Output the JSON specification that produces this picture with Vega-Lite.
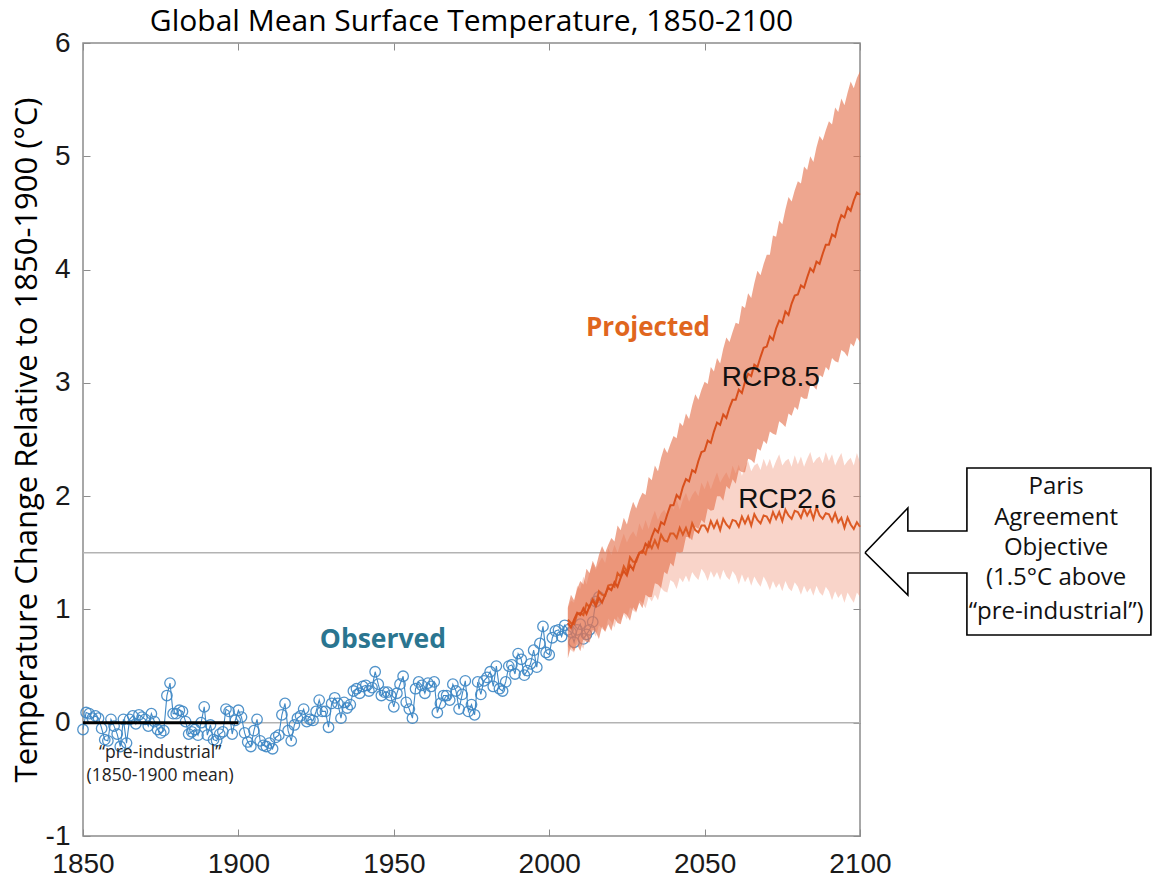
{
"$schema": "https://vega.github.io/schema/vega-lite/v6.json",
"width": 777, "height": 793,
"autosize": {"type": "none"},
"padding": {"left": 83, "top": 43, "right": 294, "bottom": 45},
"background": "white",
"title": {"text": "Global Mean Surface Temperature, 1850-2100", "font": "Open Sans", "fontSize": 30, "fontWeight": "normal", "color": "black", "offset": -8},
"config": {"view": {"stroke": "#8c8c8c", "strokeWidth": 1.5}},
"datasets": {
"obs": [
{"year":1850,"v":-0.06},{"year":1851,"v":0.09},{"year":1852,"v":0.08},{"year":1853,"v":0.04},{"year":1854,"v":0.06},{"year":1855,"v":0.04},{"year":1856,"v":-0.05},{"year":1857,"v":-0.15},{"year":1858,"v":-0.16},{"year":1859,"v":0.03},
{"year":1860,"v":-0.03},{"year":1861,"v":-0.10},{"year":1862,"v":-0.21},{"year":1863,"v":0.03},{"year":1864,"v":-0.18},{"year":1865,"v":0.03},{"year":1866,"v":0.06},{"year":1867,"v":-0.01},{"year":1868,"v":0.07},{"year":1869,"v":0.05},
{"year":1870,"v":0.03},{"year":1871,"v":-0.03},{"year":1872,"v":0.08},{"year":1873,"v":0.01},{"year":1874,"v":-0.06},{"year":1875,"v":-0.09},{"year":1876,"v":-0.07},{"year":1877,"v":0.24},{"year":1878,"v":0.35},{"year":1879,"v":0.08},
{"year":1880,"v":0.08},{"year":1881,"v":0.11},{"year":1882,"v":0.10},{"year":1883,"v":0.01},{"year":1884,"v":-0.10},{"year":1885,"v":-0.08},{"year":1886,"v":-0.06},{"year":1887,"v":-0.11},{"year":1888,"v":0.00},{"year":1889,"v":0.14},
{"year":1890,"v":-0.11},{"year":1891,"v":-0.02},{"year":1892,"v":-0.15},{"year":1893,"v":-0.16},{"year":1894,"v":-0.10},{"year":1895,"v":-0.08},{"year":1896,"v":0.12},{"year":1897,"v":0.10},{"year":1898,"v":-0.10},{"year":1899,"v":0.02},
{"year":1900,"v":0.11},{"year":1901,"v":0.05},{"year":1902,"v":-0.09},{"year":1903,"v":-0.17},{"year":1904,"v":-0.21},{"year":1905,"v":-0.07},{"year":1906,"v":0.03},{"year":1907,"v":-0.16},{"year":1908,"v":-0.20},{"year":1909,"v":-0.21},
{"year":1910,"v":-0.18},{"year":1911,"v":-0.23},{"year":1912,"v":-0.13},{"year":1913,"v":-0.11},{"year":1914,"v":0.07},{"year":1915,"v":0.17},{"year":1916,"v":-0.07},{"year":1917,"v":-0.16},{"year":1918,"v":-0.02},{"year":1919,"v":0.04},
{"year":1920,"v":0.06},{"year":1921,"v":0.12},{"year":1922,"v":0.01},{"year":1923,"v":0.03},{"year":1924,"v":0.02},{"year":1925,"v":0.10},{"year":1926,"v":0.20},{"year":1927,"v":0.10},{"year":1928,"v":0.10},{"year":1929,"v":-0.04},
{"year":1930,"v":0.17},{"year":1931,"v":0.22},{"year":1932,"v":0.17},{"year":1933,"v":0.04},{"year":1934,"v":0.18},{"year":1935,"v":0.13},{"year":1936,"v":0.16},{"year":1937,"v":0.28},{"year":1938,"v":0.30},{"year":1939,"v":0.26},
{"year":1940,"v":0.32},{"year":1941,"v":0.33},{"year":1942,"v":0.28},{"year":1943,"v":0.31},{"year":1944,"v":0.45},{"year":1945,"v":0.34},{"year":1946,"v":0.24},{"year":1947,"v":0.27},{"year":1948,"v":0.27},{"year":1949,"v":0.24},
{"year":1950,"v":0.14},{"year":1951,"v":0.26},{"year":1952,"v":0.34},{"year":1953,"v":0.41},{"year":1954,"v":0.18},{"year":1955,"v":0.12},{"year":1956,"v":0.04},{"year":1957,"v":0.30},{"year":1958,"v":0.36},{"year":1959,"v":0.33},
{"year":1960,"v":0.26},{"year":1961,"v":0.35},{"year":1962,"v":0.32},{"year":1963,"v":0.36},{"year":1964,"v":0.09},{"year":1965,"v":0.17},{"year":1966,"v":0.24},{"year":1967,"v":0.24},{"year":1968,"v":0.20},{"year":1969,"v":0.34},
{"year":1970,"v":0.28},{"year":1971,"v":0.12},{"year":1972,"v":0.25},{"year":1973,"v":0.37},{"year":1974,"v":0.10},{"year":1975,"v":0.16},{"year":1976,"v":0.07},{"year":1977,"v":0.36},{"year":1978,"v":0.25},{"year":1979,"v":0.37},
{"year":1980,"v":0.40},{"year":1981,"v":0.45},{"year":1982,"v":0.32},{"year":1983,"v":0.50},{"year":1984,"v":0.30},{"year":1985,"v":0.28},{"year":1986,"v":0.36},{"year":1987,"v":0.50},{"year":1988,"v":0.51},{"year":1989,"v":0.43},
{"year":1990,"v":0.61},{"year":1991,"v":0.56},{"year":1992,"v":0.42},{"year":1993,"v":0.46},{"year":1994,"v":0.52},{"year":1995,"v":0.64},{"year":1996,"v":0.49},{"year":1997,"v":0.70},{"year":1998,"v":0.85},{"year":1999,"v":0.62},
{"year":2000,"v":0.60},{"year":2001,"v":0.75},{"year":2002,"v":0.81},{"year":2003,"v":0.82},{"year":2004,"v":0.76},{"year":2005,"v":0.86},{"year":2006,"v":0.82},{"year":2007,"v":0.80},{"year":2008,"v":0.71},{"year":2009,"v":0.82},
{"year":2010,"v":0.87},{"year":2011,"v":0.74},{"year":2012,"v":0.78},{"year":2013,"v":0.82},{"year":2014,"v":0.89},{"year":2015,"v":1.07},{"year":2016,"v":1.11}
],
"proj": [
{"year":2006,"m85":0.88,"lo85":0.57,"hi85":1.02,"m26":0.91,"lo26":0.67,"hi26":1.01},
{"year":2007,"m85":0.84,"lo85":0.67,"hi85":1.13,"m26":0.88,"lo26":0.64,"hi26":1.08},
{"year":2008,"m85":0.91,"lo85":0.63,"hi85":1.08,"m26":0.87,"lo26":0.62,"hi26":1.06},
{"year":2009,"m85":0.97,"lo85":0.69,"hi85":1.18,"m26":0.96,"lo26":0.73,"hi26":1.21},
{"year":2010,"m85":0.95,"lo85":0.63,"hi85":1.25,"m26":0.97,"lo26":0.70,"hi26":1.18},
{"year":2011,"m85":1.01,"lo85":0.74,"hi85":1.22,"m26":0.95,"lo26":0.65,"hi26":1.29},
{"year":2012,"m85":0.96,"lo85":0.71,"hi85":1.36,"m26":1.05,"lo26":0.77,"hi26":1.22},
{"year":2013,"m85":1.03,"lo85":0.71,"hi85":1.32,"m26":1.02,"lo26":0.73,"hi26":1.33},
{"year":2014,"m85":1.08,"lo85":0.82,"hi85":1.43,"m26":1.09,"lo26":0.81,"hi26":1.41},
{"year":2015,"m85":1.03,"lo85":0.80,"hi85":1.37,"m26":1.04,"lo26":0.76,"hi26":1.35},
{"year":2016,"m85":1.10,"lo85":0.74,"hi85":1.48,"m26":1.16,"lo26":0.86,"hi26":1.41},
{"year":2017,"m85":1.06,"lo85":0.85,"hi85":1.56,"m26":1.13,"lo26":0.83,"hi26":1.46},
{"year":2018,"m85":1.13,"lo85":0.80,"hi85":1.50,"m26":1.12,"lo26":0.81,"hi26":1.41},
{"year":2019,"m85":1.19,"lo85":0.87,"hi85":1.57,"m26":1.21,"lo26":0.92,"hi26":1.54},
{"year":2020,"m85":1.17,"lo85":0.81,"hi85":1.63,"m26":1.22,"lo26":0.89,"hi26":1.48},
{"year":2021,"m85":1.24,"lo85":0.92,"hi85":1.60,"m26":1.20,"lo26":0.84,"hi26":1.57},
{"year":2022,"m85":1.20,"lo85":0.88,"hi85":1.74,"m26":1.32,"lo26":0.94,"hi26":1.50},
{"year":2023,"m85":1.28,"lo85":0.87,"hi85":1.70,"m26":1.29,"lo26":0.90,"hi26":1.59},
{"year":2024,"m85":1.34,"lo85":0.97,"hi85":1.81,"m26":1.38,"lo26":0.96,"hi26":1.67},
{"year":2025,"m85":1.30,"lo85":0.95,"hi85":1.75,"m26":1.33,"lo26":0.91,"hi26":1.59},
{"year":2026,"m85":1.39,"lo85":0.90,"hi85":1.86,"m26":1.46,"lo26":1.02,"hi26":1.65},
{"year":2027,"m85":1.35,"lo85":1.02,"hi85":1.95,"m26":1.42,"lo26":0.99,"hi26":1.69},
{"year":2028,"m85":1.44,"lo85":0.98,"hi85":1.89,"m26":1.42,"lo26":0.97,"hi26":1.64},
{"year":2029,"m85":1.50,"lo85":1.06,"hi85":1.97,"m26":1.50,"lo26":1.08,"hi26":1.76},
{"year":2030,"m85":1.50,"lo85":1.01,"hi85":2.03,"m26":1.52,"lo26":1.06,"hi26":1.70},
{"year":2031,"m85":1.58,"lo85":1.13,"hi85":2.01,"m26":1.49,"lo26":1.01,"hi26":1.79},
{"year":2032,"m85":1.55,"lo85":1.11,"hi85":2.17,"m26":1.59,"lo26":1.11,"hi26":1.71},
{"year":2033,"m85":1.64,"lo85":1.11,"hi85":2.14,"m26":1.54,"lo26":1.07,"hi26":1.80},
{"year":2034,"m85":1.71,"lo85":1.23,"hi85":2.27,"m26":1.61,"lo26":1.13,"hi26":1.87},
{"year":2035,"m85":1.68,"lo85":1.22,"hi85":2.22,"m26":1.55,"lo26":1.08,"hi26":1.79},
{"year":2036,"m85":1.77,"lo85":1.19,"hi85":2.34,"m26":1.66,"lo26":1.19,"hi26":1.85},
{"year":2037,"m85":1.75,"lo85":1.33,"hi85":2.43,"m26":1.61,"lo26":1.16,"hi26":1.88},
{"year":2038,"m85":1.84,"lo85":1.31,"hi85":2.38,"m26":1.60,"lo26":1.15,"hi26":1.83},
{"year":2039,"m85":1.92,"lo85":1.41,"hi85":2.46,"m26":1.67,"lo26":1.26,"hi26":1.94},
{"year":2040,"m85":1.92,"lo85":1.38,"hi85":2.53,"m26":1.67,"lo26":1.24,"hi26":1.88},
{"year":2041,"m85":2.01,"lo85":1.51,"hi85":2.51,"m26":1.63,"lo26":1.18,"hi26":1.97},
{"year":2042,"m85":1.98,"lo85":1.50,"hi85":2.65,"m26":1.72,"lo26":1.28,"hi26":1.88},
{"year":2043,"m85":2.08,"lo85":1.51,"hi85":2.62,"m26":1.66,"lo26":1.24,"hi26":1.97},
{"year":2044,"m85":2.15,"lo85":1.64,"hi85":2.73,"m26":1.72,"lo26":1.30,"hi26":2.03},
{"year":2045,"m85":2.13,"lo85":1.64,"hi85":2.68,"m26":1.65,"lo26":1.24,"hi26":1.95},
{"year":2046,"m85":2.23,"lo85":1.61,"hi85":2.80,"m26":1.76,"lo26":1.33,"hi26":2.01},
{"year":2047,"m85":2.21,"lo85":1.73,"hi85":2.90,"m26":1.70,"lo26":1.29,"hi26":2.05},
{"year":2048,"m85":2.31,"lo85":1.71,"hi85":2.85,"m26":1.68,"lo26":1.26,"hi26":2.00},
{"year":2049,"m85":2.39,"lo85":1.79,"hi85":2.94,"m26":1.74,"lo26":1.36,"hi26":2.12},
{"year":2050,"m85":2.40,"lo85":1.76,"hi85":3.01,"m26":1.74,"lo26":1.32,"hi26":2.06},
{"year":2051,"m85":2.49,"lo85":1.89,"hi85":2.99,"m26":1.69,"lo26":1.25,"hi26":2.14},
{"year":2052,"m85":2.47,"lo85":1.87,"hi85":3.14,"m26":1.78,"lo26":1.34,"hi26":2.06},
{"year":2053,"m85":2.57,"lo85":1.88,"hi85":3.10,"m26":1.72,"lo26":1.28,"hi26":2.14},
{"year":2054,"m85":2.65,"lo85":2.00,"hi85":3.22,"m26":1.78,"lo26":1.33,"hi26":2.21},
{"year":2055,"m85":2.63,"lo85":2.00,"hi85":3.17,"m26":1.70,"lo26":1.26,"hi26":2.12},
{"year":2056,"m85":2.72,"lo85":1.96,"hi85":3.30,"m26":1.80,"lo26":1.35,"hi26":2.17},
{"year":2057,"m85":2.69,"lo85":2.09,"hi85":3.40,"m26":1.75,"lo26":1.29,"hi26":2.21},
{"year":2058,"m85":2.78,"lo85":2.06,"hi85":3.36,"m26":1.72,"lo26":1.26,"hi26":2.15},
{"year":2059,"m85":2.85,"lo85":2.15,"hi85":3.45,"m26":1.79,"lo26":1.34,"hi26":2.27},
{"year":2060,"m85":2.85,"lo85":2.11,"hi85":3.53,"m26":1.78,"lo26":1.30,"hi26":2.20},
{"year":2061,"m85":2.94,"lo85":2.23,"hi85":3.52,"m26":1.73,"lo26":1.22,"hi26":2.28},
{"year":2062,"m85":2.91,"lo85":2.21,"hi85":3.68,"m26":1.82,"lo26":1.31,"hi26":2.18},
{"year":2063,"m85":3.01,"lo85":2.21,"hi85":3.66,"m26":1.76,"lo26":1.24,"hi26":2.26},
{"year":2064,"m85":3.08,"lo85":2.33,"hi85":3.79,"m26":1.82,"lo26":1.29,"hi26":2.31},
{"year":2065,"m85":3.06,"lo85":2.32,"hi85":3.75,"m26":1.74,"lo26":1.21,"hi26":2.22},
{"year":2066,"m85":3.16,"lo85":2.29,"hi85":3.88,"m26":1.84,"lo26":1.29,"hi26":2.27},
{"year":2067,"m85":3.14,"lo85":2.42,"hi85":3.99,"m26":1.79,"lo26":1.24,"hi26":2.29},
{"year":2068,"m85":3.23,"lo85":2.40,"hi85":3.95,"m26":1.76,"lo26":1.20,"hi26":2.23},
{"year":2069,"m85":3.31,"lo85":2.49,"hi85":4.05,"m26":1.83,"lo26":1.29,"hi26":2.33},
{"year":2070,"m85":3.32,"lo85":2.46,"hi85":4.13,"m26":1.82,"lo26":1.24,"hi26":2.26},
{"year":2071,"m85":3.41,"lo85":2.57,"hi85":4.13,"m26":1.77,"lo26":1.17,"hi26":2.33},
{"year":2072,"m85":3.38,"lo85":2.55,"hi85":4.30,"m26":1.86,"lo26":1.25,"hi26":2.24},
{"year":2073,"m85":3.48,"lo85":2.54,"hi85":4.29,"m26":1.80,"lo26":1.19,"hi26":2.31},
{"year":2074,"m85":3.55,"lo85":2.66,"hi85":4.43,"m26":1.86,"lo26":1.23,"hi26":2.37},
{"year":2075,"m85":3.53,"lo85":2.64,"hi85":4.40,"m26":1.78,"lo26":1.16,"hi26":2.27},
{"year":2076,"m85":3.63,"lo85":2.61,"hi85":4.53,"m26":1.88,"lo26":1.25,"hi26":2.31},
{"year":2077,"m85":3.60,"lo85":2.73,"hi85":4.64,"m26":1.83,"lo26":1.19,"hi26":2.33},
{"year":2078,"m85":3.70,"lo85":2.71,"hi85":4.60,"m26":1.80,"lo26":1.16,"hi26":2.26},
{"year":2079,"m85":3.77,"lo85":2.79,"hi85":4.70,"m26":1.87,"lo26":1.24,"hi26":2.36},
{"year":2080,"m85":3.78,"lo85":2.76,"hi85":4.78,"m26":1.86,"lo26":1.20,"hi26":2.28},
{"year":2081,"m85":3.86,"lo85":2.88,"hi85":4.76,"m26":1.81,"lo26":1.13,"hi26":2.35},
{"year":2082,"m85":3.84,"lo85":2.86,"hi85":4.91,"m26":1.89,"lo26":1.21,"hi26":2.26},
{"year":2083,"m85":3.93,"lo85":2.86,"hi85":4.88,"m26":1.83,"lo26":1.15,"hi26":2.33},
{"year":2084,"m85":4.01,"lo85":2.98,"hi85":5.00,"m26":1.88,"lo26":1.19,"hi26":2.39},
{"year":2085,"m85":3.98,"lo85":2.97,"hi85":4.95,"m26":1.80,"lo26":1.12,"hi26":2.29},
{"year":2086,"m85":4.07,"lo85":2.94,"hi85":5.08,"m26":1.90,"lo26":1.21,"hi26":2.33},
{"year":2087,"m85":4.05,"lo85":3.07,"hi85":5.18,"m26":1.83,"lo26":1.15,"hi26":2.35},
{"year":2088,"m85":4.14,"lo85":3.05,"hi85":5.14,"m26":1.80,"lo26":1.12,"hi26":2.29},
{"year":2089,"m85":4.22,"lo85":3.14,"hi85":5.23,"m26":1.85,"lo26":1.20,"hi26":2.39},
{"year":2090,"m85":4.22,"lo85":3.11,"hi85":5.31,"m26":1.84,"lo26":1.16,"hi26":2.31},
{"year":2091,"m85":4.31,"lo85":3.22,"hi85":5.28,"m26":1.78,"lo26":1.08,"hi26":2.37},
{"year":2092,"m85":4.29,"lo85":3.19,"hi85":5.43,"m26":1.85,"lo26":1.16,"hi26":2.27},
{"year":2093,"m85":4.40,"lo85":3.18,"hi85":5.39,"m26":1.77,"lo26":1.10,"hi26":2.33},
{"year":2094,"m85":4.48,"lo85":3.29,"hi85":5.51,"m26":1.81,"lo26":1.14,"hi26":2.38},
{"year":2095,"m85":4.46,"lo85":3.27,"hi85":5.45,"m26":1.72,"lo26":1.06,"hi26":2.27},
{"year":2096,"m85":4.55,"lo85":3.23,"hi85":5.56,"m26":1.81,"lo26":1.15,"hi26":2.31},
{"year":2097,"m85":4.52,"lo85":3.35,"hi85":5.66,"m26":1.75,"lo26":1.10,"hi26":2.34},
{"year":2098,"m85":4.61,"lo85":3.32,"hi85":5.60,"m26":1.71,"lo26":1.06,"hi26":2.27},
{"year":2099,"m85":4.68,"lo85":3.40,"hi85":5.69,"m26":1.77,"lo26":1.15,"hi26":2.38},
{"year":2100,"m85":4.66,"lo85":3.36,"hi85":5.75,"m26":1.73,"lo26":1.11,"hi26":2.30}
],
"box": [
{"i":0,"year":2101.6,"v":1.5},{"i":1,"year":2115.4,"v":1.895},{"i":2,"year":2115.4,"v":1.692},{"i":3,"year":2134.4,"v":1.692},{"i":4,"year":2134.4,"v":2.248},{"i":5,"year":2193.6,"v":2.248},{"i":6,"year":2193.6,"v":0.774},{"i":7,"year":2134.4,"v":0.774},{"i":8,"year":2134.4,"v":1.321},{"i":9,"year":2115.4,"v":1.321},{"i":10,"year":2115.4,"v":1.127},{"i":11,"year":2101.6,"v":1.5}
]
},
"layer": [
{"data": {"values": [{"v":0},{"v":1.5}]}, "mark": {"type":"rule","color":"#b3b3b3","strokeWidth":1.5},
 "encoding": {"y": {"field":"v","type":"quantitative","scale":{"domain":[-1,6],"nice":false,"zero":false},"axis":null}}},
{"data": {"name":"obs"}, "mark": {"type":"line","color":"#3f88c5","strokeWidth":1.1},
 "encoding": {
  "x": {"field":"year","type":"quantitative","scale":{"domain":[1850,2100],"nice":false,"zero":false},
        "axis":{"orient":"bottom","values":[1850,1900,1950,2000,2050,2100],"format":"d","labelFont":"Liberation Sans","labelFontSize":28,"labelColor":"#1a1a1a","tickSize":-7,"tickColor":"#8c8c8c","labelPadding":21,"domain":false,"grid":false,"title":null,"labelFlush":false,"labelOverlap":false}},
  "y": {"field":"v","type":"quantitative","scale":{"domain":[-1,6],"nice":false,"zero":false},
        "axis":{"orient":"left","values":[-1,0,1,2,3,4,5,6],"labelExpr":"datum.value + ''","labelFont":"Liberation Sans","labelFontSize":28,"labelColor":"#1a1a1a","tickSize":-7,"tickColor":"#8c8c8c","labelPadding":20,"domain":false,"grid":false,"title":"Temperature Change Relative to 1850-1900 (°C)","titleFont":"Open Sans","titleFontSize":31,"titleFontWeight":"normal","titleColor":"black","titlePadding":2}}
 }},
{"data": {"name":"obs"}, "mark": {"type":"point","filled":false,"color":"#3f88c5","strokeWidth":1.3,"size":110,"opacity":0.9},
 "encoding": {
  "x": {"field":"year","type":"quantitative","scale":{"domain":[1850,2100],"nice":false,"zero":false},"axis":null},
  "y": {"field":"v","type":"quantitative","scale":{"domain":[-1,6],"nice":false,"zero":false},"axis":null}}},
{"data": {"values": [{"year":1850,"v":0},{"year":1900,"v":0}]}, "mark": {"type":"line","color":"black","strokeWidth":3},
 "encoding": {
  "x": {"field":"year","type":"quantitative","scale":{"domain":[1850,2100],"nice":false,"zero":false},
        "axis":{"orient":"top","values":[1850,1900,1950,2000,2050,2100],"labels":false,"tickSize":-7,"tickColor":"#8c8c8c","domain":false,"grid":false,"title":null}},
  "y": {"field":"v","type":"quantitative","scale":{"domain":[-1,6],"nice":false,"zero":false},
        "axis":{"orient":"right","values":[-1,0,1,2,3,4,5,6],"labels":false,"tickSize":-7,"tickColor":"#8c8c8c","domain":false,"grid":false,"title":null}}}},
{"data": {"name":"proj"}, "mark": {"type":"area","color":"#ef8f70","opacity":0.38},
 "encoding": {
  "x": {"field":"year","type":"quantitative","scale":{"domain":[1850,2100],"nice":false,"zero":false},"axis":null},
  "y": {"field":"lo26","type":"quantitative","scale":{"domain":[-1,6],"nice":false,"zero":false},"axis":null},
  "y2": {"field":"hi26"}}},
{"data": {"name":"proj"}, "mark": {"type":"area","color":"#e4704a","opacity":0.62},
 "encoding": {
  "x": {"field":"year","type":"quantitative","scale":{"domain":[1850,2100],"nice":false,"zero":false},"axis":null},
  "y": {"field":"lo85","type":"quantitative","scale":{"domain":[-1,6],"nice":false,"zero":false},"axis":null},
  "y2": {"field":"hi85"}}},
{"data": {"name":"proj"}, "mark": {"type":"line","color":"#dc5a24","strokeWidth":2},
 "encoding": {
  "x": {"field":"year","type":"quantitative","scale":{"domain":[1850,2100],"nice":false,"zero":false},"axis":null},
  "y": {"field":"m26","type":"quantitative","scale":{"domain":[-1,6],"nice":false,"zero":false},"axis":null}}},
{"data": {"name":"proj"}, "mark": {"type":"line","color":"#d84f1c","strokeWidth":2},
 "encoding": {
  "x": {"field":"year","type":"quantitative","scale":{"domain":[1850,2100],"nice":false,"zero":false},"axis":null},
  "y": {"field":"m85","type":"quantitative","scale":{"domain":[-1,6],"nice":false,"zero":false},"axis":null}}},
{"data": {"values": [{"year":1946.5,"v":0.73,"t":"Observed"}]}, "mark": {"type":"text","font":"Open Sans","fontWeight":"bold","fontSize":26.5,"color":"#2a7590","align":"center","baseline":"middle"},
 "encoding": {
  "x": {"field":"year","type":"quantitative","scale":{"domain":[1850,2100],"nice":false,"zero":false},"axis":null},
  "y": {"field":"v","type":"quantitative","scale":{"domain":[-1,6],"nice":false,"zero":false},"axis":null},
  "text": {"field":"t"}}},
{"data": {"values": [{"year":2031.8,"v":3.48,"t":"Projected"}]}, "mark": {"type":"text","font":"Open Sans","fontWeight":"bold","fontSize":26,"color":"#e0661e","align":"center","baseline":"middle"},
 "encoding": {
  "x": {"field":"year","type":"quantitative","scale":{"domain":[1850,2100],"nice":false,"zero":false},"axis":null},
  "y": {"field":"v","type":"quantitative","scale":{"domain":[-1,6],"nice":false,"zero":false},"axis":null},
  "text": {"field":"t"}}},
{"data": {"values": [{"year":2071.3,"v":3.04,"t":"RCP8.5"},{"year":2076.6,"v":1.97,"t":"RCP2.6"}]}, "mark": {"type":"text","font":"Liberation Sans","fontSize":28,"color":"#111111","align":"center","baseline":"middle"},
 "encoding": {
  "x": {"field":"year","type":"quantitative","scale":{"domain":[1850,2100],"nice":false,"zero":false},"axis":null},
  "y": {"field":"v","type":"quantitative","scale":{"domain":[-1,6],"nice":false,"zero":false},"axis":null},
  "text": {"field":"t"}}},
{"data": {"values": [{"year":1874.8,"v":-0.27,"t":"\u201cpre-industrial\u201d"},{"year":1874.8,"v":-0.47,"t":"(1850-1900 mean)"}]}, "mark": {"type":"text","font":"Open Sans","fontSize":17.5,"color":"#222222","align":"center","baseline":"middle"},
 "encoding": {
  "x": {"field":"year","type":"quantitative","scale":{"domain":[1850,2100],"nice":false,"zero":false},"axis":null},
  "y": {"field":"v","type":"quantitative","scale":{"domain":[-1,6],"nice":false,"zero":false},"axis":null},
  "text": {"field":"t"}}},
{"data": {"name":"box"}, "mark": {"type":"line","color":"black","strokeWidth":1.6,"strokeJoin":"miter"},
 "encoding": {
  "x": {"field":"year","type":"quantitative","scale":{"domain":[1850,2100],"nice":false,"zero":false},"axis":null},
  "y": {"field":"v","type":"quantitative","scale":{"domain":[-1,6],"nice":false,"zero":false},"axis":null},
  "order": {"field":"i","type":"quantitative"}}},
{"data": {"values": [{"year":2163.1,"v":2.08,"t":"Paris"},{"year":2163.1,"v":1.807,"t":"Agreement"},{"year":2163.1,"v":1.542,"t":"Objective"},{"year":2163.1,"v":1.277,"t":"(1.5°C above"},{"year":2163.1,"v":0.977,"t":"\u201cpre-industrial\u201d)"}]}, "mark": {"type":"text","font":"Open Sans","fontSize":24,"color":"#111111","align":"center","baseline":"middle"},
 "encoding": {
  "x": {"field":"year","type":"quantitative","scale":{"domain":[1850,2100],"nice":false,"zero":false},"axis":null},
  "y": {"field":"v","type":"quantitative","scale":{"domain":[-1,6],"nice":false,"zero":false},"axis":null},
  "text": {"field":"t"}}}
],
"resolve": {"axis": {"x": "independent", "y": "independent"}}
}
